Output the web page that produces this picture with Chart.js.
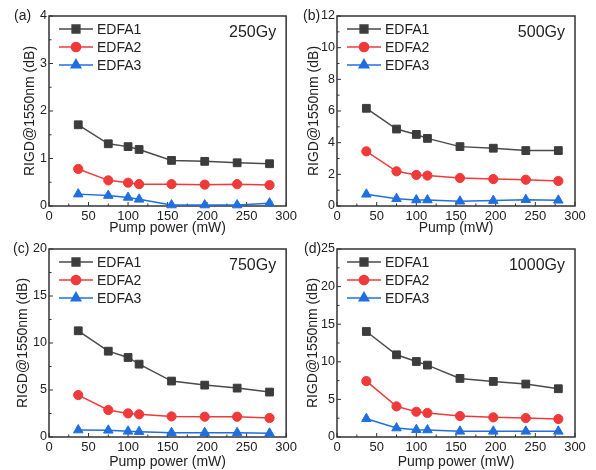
<!DOCTYPE html>
<html>
<head>
<meta charset="utf-8">
<script src="https://cdn.jsdelivr.net/npm/chart.js@4.4.1/dist/chart.umd.min.js"></script>
<style>
  body { margin: 0; background: #fff; }
  #wrap { position: relative; width: 596px; height: 470px; }
  #wrap canvas { position: absolute; }
</style>
</head>
<body>
<div id="wrap">
  <canvas id="pa" width="300" height="235" style="left:0;top:0"></canvas>
  <canvas id="pb" width="300" height="235" style="left:296px;top:0"></canvas>
  <canvas id="pc" width="300" height="235" style="left:0;top:235px"></canvas>
  <canvas id="pd" width="300" height="235" style="left:296px;top:235px"></canvas>
</div>
<script>
// pump power (mW), same for every panel
const pump = [37, 75, 100, 114, 155, 197, 238, 279];
const seriesNames = ["EDFA1", "EDFA2", "EDFA3"];

// RIGD@1550nm (dB)
const gy250_1 = [1.71, 1.31, 1.25, 1.19, 0.96, 0.94, 0.91, 0.89];
const gy250_2 = [0.78, 0.54, 0.49, 0.46, 0.46, 0.45, 0.46, 0.44];
const gy250_3 = [0.25, 0.22, 0.18, 0.14, 0.02, 0.02, 0.02, 0.06];

const gy500_1 = [6.17, 4.86, 4.52, 4.27, 3.75, 3.65, 3.50, 3.50];
const gy500_2 = [3.45, 2.19, 1.96, 1.92, 1.77, 1.70, 1.66, 1.58];
const gy500_3 = [0.74, 0.46, 0.38, 0.38, 0.30, 0.34, 0.40, 0.36];

const gy750_1 = [11.3, 9.13, 8.46, 7.75, 5.95, 5.52, 5.20, 4.78];
const gy750_2 = [4.46, 2.87, 2.51, 2.41, 2.19, 2.16, 2.16, 2.02];
const gy750_3 = [0.74, 0.71, 0.60, 0.57, 0.46, 0.46, 0.46, 0.39];

const gy1000_1 = [14.03, 10.93, 10.04, 9.56, 7.79, 7.39, 7.04, 6.42];
const gy1000_2 = [7.43, 4.07, 3.36, 3.19, 2.79, 2.61, 2.52, 2.39];
const gy1000_3 = [2.43, 1.19, 0.97, 0.93, 0.75, 0.75, 0.75, 0.75];

// y axis ranges per panel
const yMax = [4, 12, 20, 25];
const yStep = [1, 2, 5, 5];
const panelLabels = ["(a)", "(b)", "(c)", "(d)"];
const doseLabels = ["250Gy", "500Gy", "750Gy", "1000Gy"];
const xTitles = ["Pump power (mW)", "Pump (mW)", "Pump power (mW)", "Pump power (mW)"];

const FONT = "'Liberation Sans', Arial, Helvetica, sans-serif";
const TXT = "#222";
const styles = [
    { line: "#4a4a4a", fill: "#3c3c3c", shape: "rect", r: 5.5 },
    { line: "#f03a3a", fill: "#f03a3a", shape: "circle", r: 4.6 },
    { line: "#1f6fe0", fill: "#1f6fe0", shape: "triangle", r: 5.5 },
];

// layout per panel: y-axis width, x-axis height, top/right padding, y title padding, label x
const layouts = [
    { L: 49, H: 29, T: 16, R: 13, yt: 23, lx: 14 },
    { L: 41, H: 29, T: 16, R: 21, yt: 11, lx: 7 },
    { L: 49, H: 33, T: 14, R: 13, yt: 16.5, lx: 13 },
    { L: 41, H: 33, T: 14, R: 21, yt: 10.5, lx: 8 },
];

const frame = {
    id: "frame",
    beforeDatasetsDraw(chart) {
        const { ctx, chartArea: a, scales } = chart;
        ctx.save();
        ctx.strokeStyle = "#333";
        ctx.lineWidth = 1.5;
        ctx.strokeRect(a.left, a.top, a.right - a.left, a.bottom - a.top);
        ctx.lineWidth = 1;
        const ys = scales.y, xs = scales.x;
        const st = ys.options.ticks.stepSize;
        ctx.beginPath();
        for (let v = 0; v <= ys.max + 1e-9; v += st / 2) {
            const p = ys.getPixelForValue(v);
            const len = Math.abs(v / st - Math.round(v / st)) < 1e-6 ? 4 : 2.5;
            ctx.moveTo(a.left, p);
            ctx.lineTo(a.left + len, p);
        }
        for (let v = 0; v <= 300; v += 25) {
            const p = xs.getPixelForValue(v);
            const len = v % 50 === 0 ? 4 : 2.5;
            ctx.moveTo(p, a.bottom);
            ctx.lineTo(p, a.bottom - len);
        }
        ctx.stroke();
        ctx.restore();
    },
    afterDraw(chart, args, opts) {
        const { ctx, chartArea: a } = chart;
        ctx.save();
        ctx.fillStyle = TXT;
        ctx.textBaseline = "middle";
        ctx.font = "14px " + FONT;
        ctx.textAlign = "left";
        ctx.fillText(opts.panel, opts.lx, a.top);
        ctx.font = "16px " + FONT;
        ctx.textAlign = "right";
        ctx.fillText(opts.dose, a.right - 10, a.top + 17);
        // legend: line + marker + name
        chart.data.datasets.forEach((ds, i) => {
            const x = a.left + 10, y = a.top + 13 + i * 18;
            ctx.strokeStyle = ds.borderColor;
            ctx.lineWidth = 1.5;
            ctx.beginPath();
            ctx.moveTo(x, y);
            ctx.lineTo(x + 34, y);
            ctx.stroke();
            ctx.fillStyle = ds.pointBackgroundColor;
            ctx.strokeStyle = ds.pointBorderColor;
            Chart.helpers.drawPoint(ctx, { pointStyle: ds.pointStyle, radius: ds.pointRadius, rotation: 0, borderWidth: 1 }, x + 17, y);
            ctx.fillStyle = TXT;
            ctx.font = "14px " + FONT;
            ctx.textAlign = "left";
            ctx.fillText(ds.label, x + 38, y + 1);
        });
        ctx.restore();
    },
};

function makePanel(id, idx, values) {
    const lay = layouts[idx];
    const datasets = values.map((vals, i) => ({
        label: seriesNames[i],
        data: pump.map((p, k) => ({ x: p, y: vals[k] })),
        borderColor: styles[i].line,
        borderWidth: 1.5,
        pointStyle: styles[i].shape,
        pointRadius: styles[i].r,
        pointBackgroundColor: styles[i].fill,
        pointBorderColor: styles[i].fill,
        pointBorderWidth: 1,
        tension: 0,
        clip: false,
    }));
    return new Chart(document.getElementById(id), {
        type: "line",
        data: { datasets: datasets },
        options: {
            responsive: false,
            animation: false,
            layout: { padding: { left: 0, top: lay.T, right: lay.R, bottom: 0 } },
            plugins: {
                legend: { display: false },
                tooltip: { enabled: false },
                frame: { panel: panelLabels[idx], dose: doseLabels[idx], lx: lay.lx },
            },
            scales: {
                x: {
                    type: "linear",
                    min: 0,
                    max: 300,
                    grid: { display: false, drawTicks: false },
                    border: { display: false },
                    ticks: { stepSize: 50, padding: 3, color: TXT, font: { family: FONT, size: 13 }, maxRotation: 0 },
                    title: {
                        display: true,
                        text: xTitles[idx],
                        color: TXT,
                        font: { family: FONT, size: 14, lineHeight: 1 },
                        padding: { top: 0, bottom: idx < 2 ? 0 : 1 },
                    },
                    afterFit: (s) => { s.height = lay.H; },
                },
                y: {
                    min: 0,
                    max: yMax[idx],
                    grid: { display: false, drawTicks: false },
                    border: { display: false },
                    ticks: { stepSize: yStep[idx], padding: 2, color: TXT, font: { family: FONT, size: 12.5 } },
                    title: {
                        display: true,
                        text: "RIGD@1550nm (dB)",
                        color: TXT,
                        font: { family: FONT, size: 14, lineHeight: 1 },
                        padding: { top: lay.yt, bottom: 0 },
                    },
                    afterFit: (s) => { s.width = lay.L; },
                },
            },
        },
        plugins: [frame],
    });
}

makePanel("pa", 0, [gy250_1, gy250_2, gy250_3]);
makePanel("pb", 1, [gy500_1, gy500_2, gy500_3]);
makePanel("pc", 2, [gy750_1, gy750_2, gy750_3]);
makePanel("pd", 3, [gy1000_1, gy1000_2, gy1000_3]);
</script>
</body>
</html>
